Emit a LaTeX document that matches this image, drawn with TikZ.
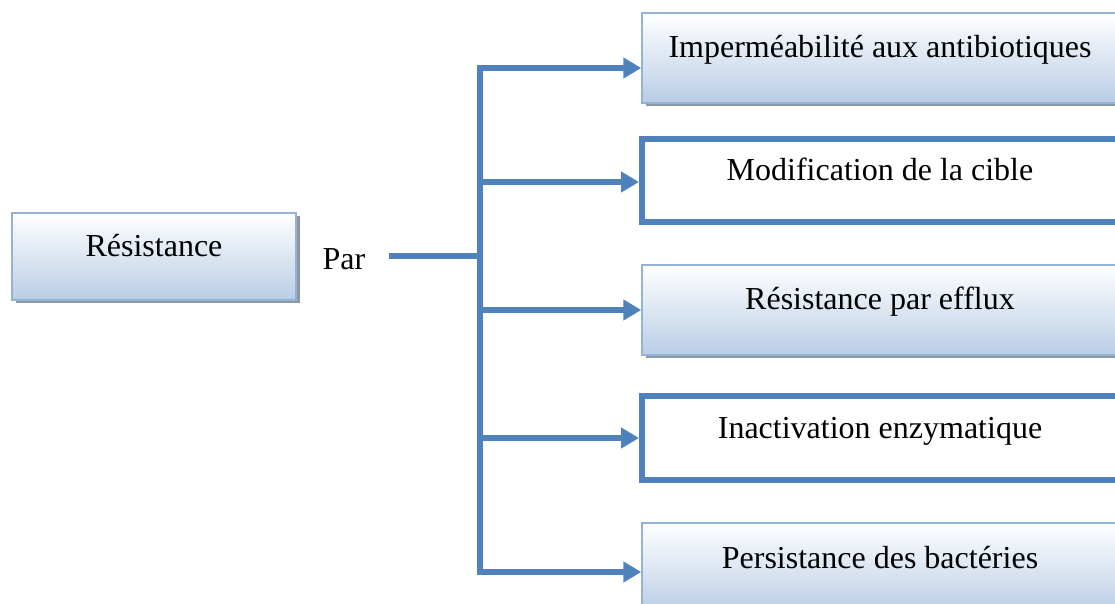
\documentclass[tikz,border=0pt]{standalone}
\usepackage{fontspec}
\setmainfont{Liberation Serif}
\usetikzlibrary{arrows.meta,calc,positioning,shadows}
\definecolor{lineblue}{HTML}{4F81BD}
\definecolor{fillblue}{HTML}{B9CDE5}
\definecolor{edgeblue}{HTML}{95B3D7}
\definecolor{shadowgray}{HTML}{8C97A4}
\tikzset{%
	shadedbox/.style = {draw=edgeblue, line width=0.75pt, rectangle, top color=white, bottom color=fillblue,
		drop shadow={shadow xshift=1.75pt, shadow yshift=-1.75pt, fill=shadowgray, opacity=1},
		inner sep=0pt, text height=22.5pt, text depth=22.5pt}, % gradient box
	framebox/.style  = {draw=lineblue, line width=3pt, rectangle, fill=white,
		inner sep=0pt, text height=20.75pt, text depth=20.75pt}, % thick frame
	waypoint/.style  = {coordinate}, % branch point
	link/.style      = {draw=lineblue, line width=3pt},
	arrowlink/.style = {link, -{Triangle[length=9pt,width=10pt]}},
}
\begin{document}
\begin{tikzpicture}[x=0.5pt, y=-0.5pt, font=\fontsize{16}{19}\selectfont]
	\useasboundingbox (0,0) rectangle (1115,604);
	\clip (0,0) rectangle (1115,604);
	\node[shadedbox, minimum width=142pt, text height=21.75pt, text depth=21.75pt] (res) at (154,256.5) {Résistance};
	\node (par) at (344,259) {Par};
	\node[shadedbox, minimum width=238pt] (b1) at (880,58) {Imperméabilité aux antibiotiques};
	\node[framebox, minimum width=238pt] (b2) at (880,180.5) {Modification de la cible};
	\node[shadedbox, minimum width=238pt] (b3) at (880,310) {Résistance par efflux};
	\node[framebox, minimum width=238pt, text height=21pt, text depth=21pt] (b4) at (880,438) {Inactivation enzymatique};
	\node[shadedbox, minimum width=238pt] (b5) at (880,568) {Persistance des bactéries};
	\node[waypoint] (p0) at (389,256) {};
	\node[waypoint] (j) at (480,256) {};
	\node[waypoint] (t1) at (480,68) {};
	\node[waypoint] (t2) at (480,182) {};
	\node[waypoint] (t3) at (480,310) {};
	\node[waypoint] (t4) at (480,438) {};
	\node[waypoint] (t5) at (480,572) {};
	\draw[link] (p0) -- (j);
	\draw[link, line cap=rect] (t1) -- (t5);
	\foreach \i in {1,...,5}
		\draw[arrowlink] (t\i) -- (t\i -| b\i.west);
\end{tikzpicture}
\end{document}
